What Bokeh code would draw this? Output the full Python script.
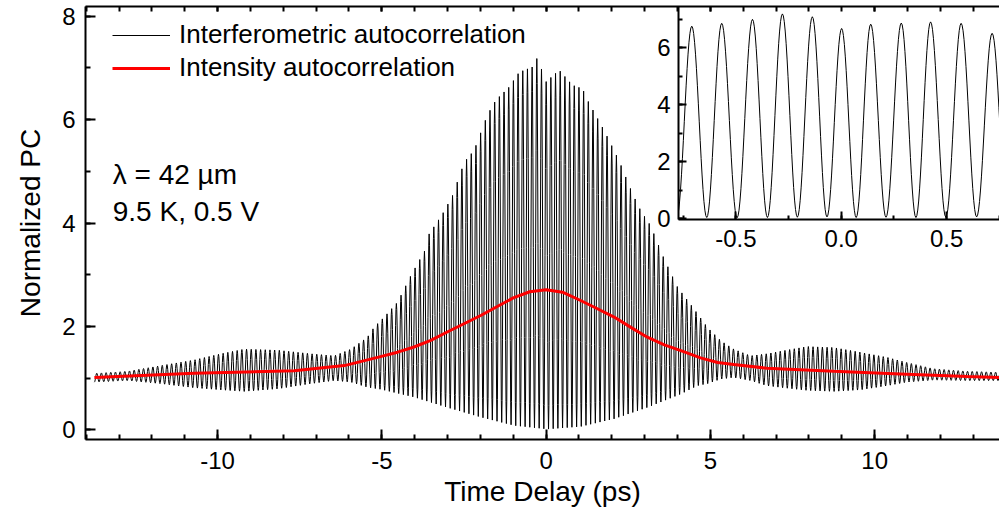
import numpy as np
from bokeh.plotting import figure
from bokeh.models import (Range1d, LinearAxis, SingleIntervalTicker, Legend, LegendItem,
                          Label, GridBox, PrintfTickFormatter)
from bokeh.embed import file_html
from bokeh.resources import INLINE

FONT = "Liberation Sans"

# ---------------- data ----------------
# upper envelope of the interferometric fringes (time in ps, normalized PC)
upper_t = [-13.75, -12.74, -11.73, -10.71, -9.90, -9.19, -8.17, -7.16, -6.45, -5.94,
           -5.44, -5.24, -4.93, -4.52, -4.12, -3.69, -3.56, -3.15, -2.85, -2.49,
           -2.19, -1.79, -1.53, -1.13, -0.82, -0.42, -0.26, -0.01, 0.40, 0.80,
           1.11, 1.26, 1.51, 1.77, 2.22, 2.63, 2.88, 3.18, 3.59, 4.00,
           4.50, 4.91, 5.32, 5.71, 6.22, 6.72, 7.23, 7.94, 8.76, 9.56,
           10.38, 10.98, 11.79, 12.82, 13.85]
upper_v = [1.09, 1.13, 1.24, 1.35, 1.47, 1.56, 1.54, 1.47, 1.43, 1.56,
           1.79, 1.98, 2.18, 2.47, 2.98, 3.47, 3.79, 4.18, 4.53, 5.18,
           5.41, 6.09, 6.38, 6.63, 6.92, 7.02, 7.21, 6.73, 6.96, 6.67,
           6.60, 6.38, 6.09, 5.79, 5.21, 4.57, 4.24, 3.95, 3.31, 2.76,
           2.34, 1.98, 1.72, 1.56, 1.43, 1.47, 1.53, 1.61, 1.59, 1.50,
           1.40, 1.30, 1.18, 1.13, 1.11]
# lower envelope of the fringes
lower_t = [-13.75, -12.74, -11.73, -10.71, -9.90, -9.19, -8.17, -7.16, -6.45, -5.94,
           -5.44, -5.03, -4.02, -3.01, -1.98, -0.97, 0.04, 1.05, 2.07, 3.08,
           4.10, 4.60, 4.91, 5.32, 5.71, 6.22, 6.72, 7.23, 7.94, 8.76,
           9.56, 10.38, 10.98, 11.79, 12.82, 13.85]
lower_v = [0.92, 0.95, 0.89, 0.81, 0.77, 0.74, 0.79, 0.89, 0.95, 0.92,
           0.82, 0.78, 0.63, 0.43, 0.24, 0.08, 0.01, 0.06, 0.21, 0.43,
           0.69, 0.85, 0.89, 0.98, 1.01, 0.95, 0.85, 0.81, 0.76, 0.74,
           0.77, 0.85, 0.92, 0.96, 0.95, 0.95]
fringe_period = 0.1425   # ps (lambda = 42 um)
fringe_phase = 0.002     # ps, position of the central fringe peak

# intensity autocorrelation (red)
int_t = [-13.75, -10.71, -7.67, -6.14, -5.13, -4.52, -4.02, -3.51, -3.01, -2.50,
         -1.99, -1.50, -1.00, -0.50, 0.00, 0.50, 1.05, 1.50, 2.07, 2.58,
         3.08, 3.60, 4.10, 4.70, 5.22, 5.71, 6.72, 8.76, 10.78, 12.82, 13.85]
int_v = [1.01, 1.09, 1.14, 1.24, 1.40, 1.50, 1.60, 1.73, 1.89, 2.05,
         2.21, 2.38, 2.55, 2.67, 2.71, 2.66, 2.50, 2.36, 2.18, 1.98,
         1.79, 1.64, 1.53, 1.39, 1.30, 1.26, 1.19, 1.13, 1.08, 1.03, 1.01]

# inset: individual fringes around zero delay
inset_peak_t = [-0.709, -0.567, -0.421, -0.279, -0.137, 0.002, 0.140, 0.285, 0.424, 0.569, 0.716]
inset_peak_v = [6.75, 6.85, 6.99, 7.18, 7.08, 6.67, 6.82, 6.86, 6.90, 6.85, 6.50]
inset_trough_v = [0.05, 0.04, 0.03, 0.04, 0.05, 0.06, 0.04, 0.05, 0.04, 0.05, 0.06, 0.05]

legend_labels = ["Interferometric autocorrelation", "Intensity autocorrelation"]
note_lines = ["\u03bb = 42 \u00b5m", "9.5 K, 0.5 V"]


def fringe_curve(ext_t, ext_v, n=8):
    """Join successive fringe extrema with half-cosine segments."""
    xs, ys = [], []
    for i in range(len(ext_t) - 1):
        t0, t1 = ext_t[i], ext_t[i + 1]
        v0, v1 = ext_v[i], ext_v[i + 1]
        s = np.linspace(0.0, 1.0, n, endpoint=False)
        xs.append(t0 + (t1 - t0) * s)
        ys.append(v1 + (v0 - v1) * (1 + np.cos(np.pi * s)) / 2)
    xs.append([ext_t[-1]])
    ys.append([ext_v[-1]])
    return np.concatenate(xs), np.concatenate(ys)


# main trace extrema: peaks on the upper envelope, troughs on the lower one
half = fringe_period / 2
j0 = int(np.ceil((upper_t[0] - fringe_phase) / half))
j1 = int(np.floor((upper_t[-1] - fringe_phase) / half))
ext_t, ext_v = [], []
for j in range(j0, j1 + 1):
    t = fringe_phase + j * half
    ext_t.append(t)
    if j % 2 == 0:
        ext_v.append(float(np.interp(t, upper_t, upper_v)))
    else:
        ext_v.append(float(np.interp(t, lower_t, lower_v)))
main_x, main_y = fringe_curve(ext_t, ext_v, n=6)

# inset extrema
in_t, in_v = [], []
first_tr = inset_peak_t[0] - (inset_peak_t[1] - inset_peak_t[0]) / 2
in_t.append(first_tr)
in_v.append(inset_trough_v[0])
for i, (pt, pv) in enumerate(zip(inset_peak_t, inset_peak_v)):
    in_t.append(pt)
    in_v.append(pv)
    if i < len(inset_peak_t) - 1:
        in_t.append((pt + inset_peak_t[i + 1]) / 2)
    else:
        in_t.append(pt + (pt - inset_peak_t[i - 1]) / 2)
    in_v.append(inset_trough_v[i + 1])
inset_x, inset_y = fringe_curve(in_t, in_v, n=16)


def style_axis(ax, major_in, minor_in, label_size="24px", standoff=10):
    ax.axis_line_width = 2
    ax.axis_line_color = "black"
    ax.major_tick_in = major_in
    ax.major_tick_out = 0
    ax.minor_tick_in = minor_in
    ax.minor_tick_out = 0
    ax.major_tick_line_width = 2
    ax.minor_tick_line_width = 2
    ax.major_tick_line_color = "black"
    ax.minor_tick_line_color = "black"
    ax.major_label_text_font = FONT
    ax.major_label_text_font_size = label_size
    ax.major_label_text_color = "black"
    ax.major_label_standoff = standoff
    ax.axis_label_text_font = FONT
    ax.axis_label_text_font_size = "28px"
    ax.axis_label_text_font_style = "normal"
    ax.axis_label_text_color = "black"


# ---------------- main figure ----------------
p = figure(width=999, height=512, x_range=Range1d(-14.02, 13.8), y_range=Range1d(-0.19, 8.19),
           output_backend="svg", toolbar_location=None,
           x_axis_location=None, y_axis_location=None,
           min_border_left=85, min_border_right=0, min_border_top=6, min_border_bottom=73)
p.outline_line_color = None
p.background_fill_color = "white"
p.border_fill_color = "white"
p.grid.visible = False

xb = LinearAxis(ticker=SingleIntervalTicker(interval=5, num_minor_ticks=5),
                formatter=PrintfTickFormatter(format="%d"),
                axis_label="Time Delay (ps)")
style_axis(xb, 10, 5, standoff=12)
xb.axis_label_standoff = 4
p.add_layout(xb, "below")

xt = LinearAxis(ticker=SingleIntervalTicker(interval=5, num_minor_ticks=5))
style_axis(xt, 5, 5)
xt.major_label_overrides = {float(v): "" for v in range(-15, 20, 5)}
xt.major_label_standoff = 0
p.add_layout(xt, "above")

yl = LinearAxis(ticker=SingleIntervalTicker(interval=2, num_minor_ticks=2),
                axis_label="Normalized PC")
style_axis(yl, 10, 5, standoff=10)
yl.axis_label_standoff = 13
p.add_layout(yl, "left")

r_int = p.line(main_x, main_y, line_color="black", line_width=1)
r_ac = p.line(int_t, int_v, line_color="#ff0000", line_width=3)

legend = Legend(items=[LegendItem(label=legend_labels[0], renderers=[r_int]),
                       LegendItem(label=legend_labels[1], renderers=[r_ac])],
                location=(27, 356), padding=0, margin=0, spacing=2,
                glyph_width=58, glyph_height=30, label_height=30, label_standoff=9,
                label_text_font=FONT, label_text_font_size="26px", label_text_color="black",
                border_line_color=None, background_fill_alpha=0)
p.add_layout(legend)

p.add_layout(Label(x=-13.19, y=4.93, text=note_lines[0], text_font=FONT, text_font_size="28px",
                   text_baseline="alphabetic", text_color="black"))
p.add_layout(Label(x=-13.19, y=4.22, text=note_lines[1], text_font=FONT, text_font_size="28px",
                   text_baseline="alphabetic", text_color="black"))

# ---------------- inset ----------------
# borders equal to the main figure's (the shared grid cell aligns them)
pin = figure(width=406, height=292, x_range=Range1d(-0.772, 0.751), y_range=Range1d(-0.03, 7.44),
             output_backend="svg", toolbar_location=None,
             x_axis_location=None, y_axis_location=None,
             min_border_left=85, min_border_right=0, min_border_top=6, min_border_bottom=73)
pin.outline_line_color = None
pin.background_fill_color = None
pin.border_fill_color = None
pin.grid.visible = False

ib = LinearAxis(ticker=SingleIntervalTicker(interval=0.5, num_minor_ticks=2),
                formatter=PrintfTickFormatter(format="%.1f"))
style_axis(ib, 8, 4, standoff=10)
pin.add_layout(ib, "below")
il = LinearAxis(ticker=SingleIntervalTicker(interval=2, num_minor_ticks=2))
style_axis(il, 8, 4, standoff=8)
pin.add_layout(il, "left")

pin.line(inset_x, inset_y, line_color="black", line_width=1)

pin.margin = (0, 0, 0, 593)
grid = GridBox(children=[(p, 0, 0), (pin, 0, 0)])

open("out.html", "w").write(file_html(grid, INLINE))
